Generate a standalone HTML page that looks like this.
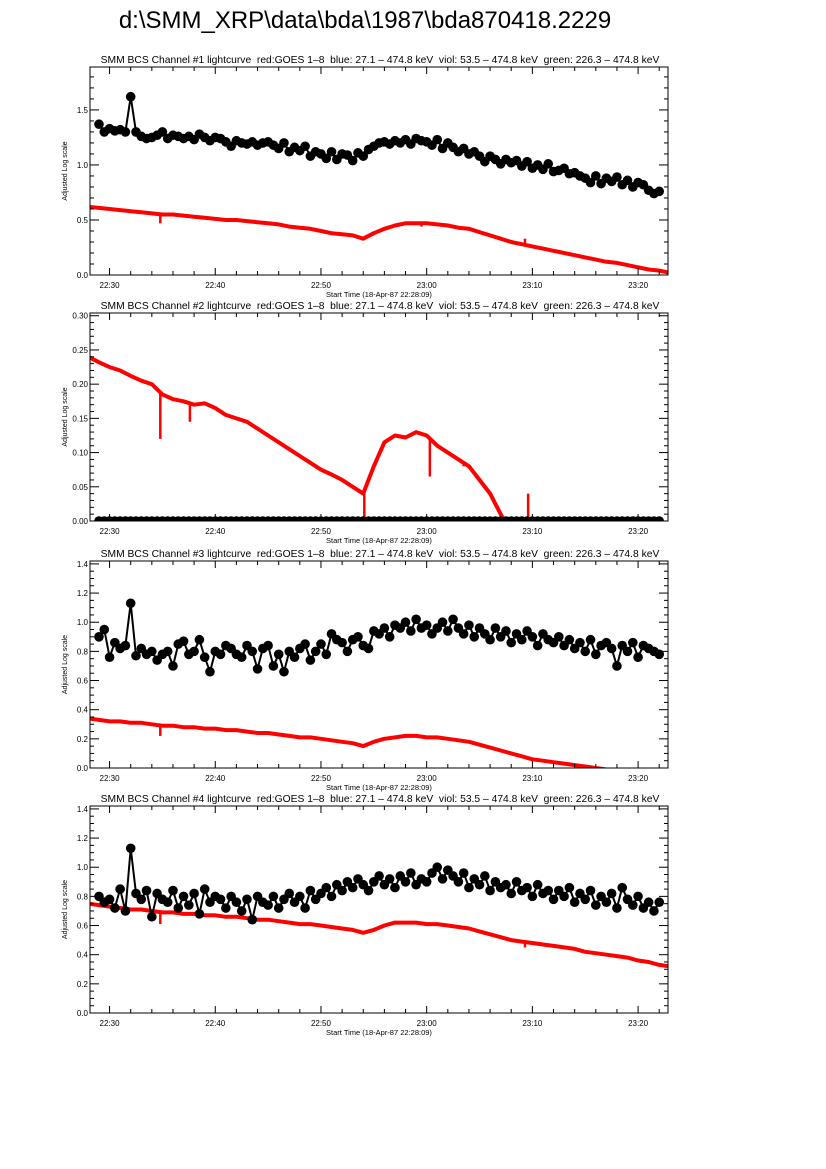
<!DOCTYPE html>
<html><head><meta charset="utf-8"><style>
html,body{margin:0;padding:0;background:#fff;width:826px;height:1169px;overflow:hidden}
svg{display:block;font-family:"Liberation Sans",sans-serif}
</style></head><body>
<svg id="fig" width="826" height="1169" viewBox="0 0 826 1169">
<text x="365" y="28" font-size="24" text-anchor="middle">d:\SMM_XRP\data\bda\1987\bda870418.2229</text>
</svg>
<script>
// Time axis: minutes after 22:00
const xTickMinutes = [30, 40, 50, 60, 70, 80];
const xTickLabels = ["22:30", "22:40", "22:50", "23:00", "23:10", "23:20"];
const redStartMin = 28;   // red series, 1-minute step from 22:28
const blackStartMin = 29; // black series, 0.5-minute step from 22:29

const red1 = [0.62,0.61,0.60,0.59,0.58,0.57,0.56,0.55,0.55,0.54,0.53,0.52,0.51,0.50,0.50,0.49,0.48,0.47,0.46,0.44,0.43,0.42,0.40,0.38,0.37,0.36,0.33,0.38,0.42,0.45,0.47,0.47,0.47,0.46,0.45,0.43,0.42,0.39,0.36,0.33,0.30,0.28,0.26,0.24,0.22,0.20,0.18,0.16,0.14,0.12,0.11,0.09,0.07,0.05,0.04,0.02];
const red2 = [0.240,0.232,0.225,0.220,0.212,0.205,0.200,0.185,0.178,0.175,0.170,0.172,0.165,0.155,0.150,0.145,0.135,0.125,0.115,0.105,0.095,0.085,0.075,0.068,0.060,0.050,0.040,0.080,0.115,0.125,0.122,0.130,0.125,0.110,0.100,0.090,0.080,0.060,0.040,0.010,-0.02,-0.03,-0.04,-0.05,-0.05,-0.05,-0.05,-0.05,-0.05,-0.05,-0.05,-0.05,-0.05,-0.05,-0.05,-0.05];
const red3 = [0.34,0.33,0.32,0.32,0.31,0.31,0.30,0.29,0.29,0.28,0.28,0.27,0.27,0.26,0.26,0.25,0.24,0.24,0.23,0.22,0.21,0.21,0.20,0.19,0.18,0.17,0.15,0.18,0.20,0.21,0.22,0.22,0.21,0.21,0.20,0.19,0.18,0.16,0.14,0.12,0.10,0.08,0.06,0.05,0.04,0.03,0.02,0.01,0.0,-0.01,-0.02,-0.02,-0.03,-0.03,-0.04,-0.04];
const red4 = [0.75,0.74,0.73,0.72,0.71,0.71,0.70,0.69,0.69,0.68,0.68,0.67,0.67,0.66,0.66,0.65,0.64,0.64,0.63,0.62,0.61,0.61,0.60,0.59,0.58,0.57,0.55,0.57,0.60,0.62,0.62,0.62,0.61,0.61,0.60,0.59,0.58,0.56,0.54,0.52,0.50,0.49,0.48,0.47,0.46,0.45,0.44,0.42,0.41,0.40,0.39,0.38,0.36,0.35,0.33,0.32];

// spikes: [minute, value]
const spikes1 = [[34.8,0.47],[69.3,0.33],[59.5,0.44]];
const spikes2 = [[34.8,0.12],[37.6,0.145],[54.1,0.0],[60.3,0.065],[63.5,0.08],[69.6,0.04]];
const spikes3 = [[34.8,0.22]];
const spikes4 = [[34.8,0.61],[69.3,0.45]];

const black1 = [1.37,1.30,1.33,1.31,1.32,1.30,1.62,1.30,1.26,1.24,1.25,1.27,1.30,1.24,1.27,1.26,1.24,1.26,1.23,1.28,1.25,1.22,1.25,1.24,1.21,1.17,1.22,1.20,1.19,1.21,1.18,1.20,1.21,1.18,1.15,1.20,1.12,1.16,1.13,1.17,1.08,1.12,1.10,1.06,1.12,1.05,1.10,1.09,1.04,1.11,1.08,1.14,1.17,1.20,1.21,1.19,1.22,1.20,1.23,1.19,1.24,1.22,1.21,1.18,1.23,1.15,1.20,1.16,1.12,1.15,1.10,1.12,1.08,1.03,1.08,1.05,1.01,1.05,1.02,1.04,0.99,1.03,0.97,1.00,0.96,1.01,0.94,0.95,0.97,0.92,0.93,0.90,0.88,0.84,0.90,0.83,0.88,0.85,0.89,0.82,0.86,0.80,0.84,0.82,0.77,0.74,0.76];
const black2 = [0,0,0,0,0,0,0,0,0,0,0,0,0,0,0,0,0,0,0,0,0,0,0,0,0,0,0,0,0,0,0,0,0,0,0,0,0,0,0,0,0,0,0,0,0,0,0,0,0,0,0,0,0,0,0,0,0,0,0,0,0,0,0,0,0,0,0,0,0,0,0,0,0,0,0,0,0,0,0,0,0,0,0,0,0,0,0,0,0,0,0,0,0,0,0,0,0,0,0,0,0,0,0,0,0,0,0];
const black3 = [0.90,0.95,0.76,0.86,0.82,0.84,1.13,0.77,0.82,0.78,0.80,0.74,0.78,0.80,0.70,0.85,0.87,0.78,0.80,0.88,0.76,0.66,0.80,0.78,0.84,0.82,0.78,0.76,0.84,0.80,0.68,0.82,0.84,0.70,0.78,0.66,0.80,0.76,0.82,0.85,0.74,0.80,0.85,0.78,0.92,0.88,0.86,0.80,0.88,0.90,0.84,0.82,0.94,0.92,0.96,0.90,0.98,0.96,1.00,0.94,1.02,0.96,0.98,0.92,0.96,1.00,0.94,1.02,0.96,0.92,0.98,0.90,0.96,0.92,0.88,0.96,0.90,0.94,0.86,0.92,0.88,0.94,0.90,0.84,0.92,0.88,0.86,0.90,0.84,0.88,0.82,0.86,0.80,0.88,0.78,0.84,0.86,0.82,0.70,0.84,0.80,0.86,0.76,0.84,0.82,0.80,0.78];
const black4 = [0.80,0.76,0.78,0.72,0.85,0.70,1.13,0.82,0.78,0.84,0.66,0.82,0.78,0.76,0.84,0.72,0.80,0.74,0.82,0.68,0.85,0.76,0.80,0.78,0.72,0.80,0.76,0.70,0.78,0.64,0.80,0.76,0.74,0.80,0.72,0.78,0.82,0.76,0.80,0.72,0.84,0.78,0.82,0.86,0.80,0.88,0.84,0.90,0.86,0.92,0.88,0.84,0.90,0.94,0.88,0.92,0.86,0.94,0.90,0.96,0.88,0.92,0.90,0.96,1.00,0.92,0.98,0.94,0.90,0.96,0.86,0.92,0.88,0.94,0.84,0.90,0.86,0.88,0.82,0.90,0.84,0.86,0.80,0.88,0.82,0.84,0.78,0.84,0.80,0.86,0.76,0.82,0.78,0.84,0.74,0.80,0.76,0.82,0.72,0.86,0.78,0.74,0.80,0.72,0.76,0.70,0.76];

const NS = "http://www.w3.org/2000/svg";
const svg = document.getElementById("fig");
function el(tag, attrs, parent) {
  const e = document.createElementNS(NS, tag);
  for (const k in attrs) e.setAttribute(k, attrs[k]);
  (parent || svg).appendChild(e);
  return e;
}
const X0 = 90, X1 = 668;
const T0 = 28.15, T1 = 82.83;
function xs(m) { return X0 + (m - T0) / (T1 - T0) * (X1 - X0); }

const subtitle = "SMM BCS Channel #N lightcurve  red:GOES 1\u20138  blue: 27.1 \u2013 474.8 keV  viol: 53.5 \u2013 474.8 keV  green: 226.3 \u2013 474.8 keV";

const panels = [
  {n:1, top:67, bot:275, ymax:1.89, major:[0,0.5,1.0,1.5], fmt:1, minor:0.1, red:red1, black:black1, spikes:spikes1},
  {n:2, top:313, bot:521, ymax:0.304, major:[0,0.05,0.10,0.15,0.20,0.25,0.30], fmt:2, minor:0.01, red:red2, black:black2, spikes:spikes2},
  {n:3, top:561, bot:768, ymax:1.42, major:[0,0.2,0.4,0.6,0.8,1.0,1.2,1.4], fmt:1, minor:0.05, red:red3, black:black3, spikes:spikes3},
  {n:4, top:806, bot:1013, ymax:1.42, major:[0,0.2,0.4,0.6,0.8,1.0,1.2,1.4], fmt:1, minor:0.05, red:red4, black:black4, spikes:spikes4}
];

panels.forEach(p => {
  const g = el("g", {});
  
  
  const ys = v => p.bot - v / p.ymax * (p.bot - p.top);
  const clipId = "clip" + p.n;
  const cp = el("clipPath", {id: clipId}, g);
  el("rect", {x: X0, y: p.top, width: X1 - X0, height: p.bot - p.top}, cp);

  const t = el("text", {x: 380, y: p.top - 4, "font-size": 10.3, "text-anchor": "middle", style: "white-space:pre"}, g);
  t.textContent = subtitle.replace("#N", "#" + p.n);
  
  

  const yt = el("text", {x: 0, y: 0, "font-size": 7, "text-anchor": "middle", transform: "translate(67," + ((p.top + p.bot) / 2) + ") rotate(-90)"}, g);
  yt.textContent = "Adjusted Log scale";
  
  

  const xt = el("text", {x: 379, y: p.bot + 22, "font-size": 7.5, "text-anchor": "middle"}, g);
  xt.textContent = "Start Time (18-Apr-87 22:28:09)";
  
  

  // data
  const dg = el("g", {"clip-path": "url(#" + clipId + ")"}, g);
  let rp = "";
  p.red.forEach((v, i) => { rp += (i ? "L" : "M") + xs(redStartMin + i).toFixed(1) + "," + ys(v).toFixed(1); });
  const rl = el("path", {d: rp, fill: "none", stroke: "#ff0000", "stroke-width": 4, "stroke-linejoin": "round"}, dg);
  
  
  p.spikes.forEach(s => {
    const i = Math.floor(s[0] - redStartMin), f = s[0] - redStartMin - i;
    let base = p.red[i] + (p.red[i + 1] - p.red[i]) * f;
    if (base < 0) base = 0;
    const sl = el("line", {x1: xs(s[0]), x2: xs(s[0]), y1: ys(base), y2: ys(s[1]), stroke: "#ff0000", "stroke-width": 2.5}, dg);
    
    
  });
  let bp = "";
  p.black.forEach((v, i) => { bp += (i ? "L" : "M") + xs(blackStartMin + i * 0.5).toFixed(1) + "," + ys(v).toFixed(1); });
  const bl = el("path", {d: bp, fill: "none", stroke: "#000", "stroke-width": 2}, dg);
  
  
  p.black.forEach((v, i) => {
    const c = el("circle", {cx: xs(blackStartMin + i * 0.5), cy: ys(v), r: 4.8, fill: "#000"}, dg);
    
    
  });

  // frame
  const fr = el("rect", {x: X0, y: p.top, width: X1 - X0, height: p.bot - p.top, fill: "none", stroke: "#000", "stroke-width": 1}, g);
  
  

  // x ticks
  for (let m = 30; m <= 82; m += 2) {
    const major = (m % 10 === 0), L = major ? 7 : 4, x = xs(m);
    el("line", {x1: x, x2: x, y1: p.bot, y2: p.bot - L, stroke: "#000"}, g);
    el("line", {x1: x, x2: x, y1: p.top, y2: p.top + L, stroke: "#000"}, g);
  }
  xTickMinutes.forEach((m, i) => {
    const tl = el("text", {x: xs(m), y: p.bot + 13, "font-size": 8, "text-anchor": "middle"}, g);
    tl.textContent = xTickLabels[i];
    
    
  });
  // y ticks
  const nMinor = Math.floor(p.ymax / p.minor + 1e-6);
  for (let k = 0; k <= nMinor; k++) {
    const v = k * p.minor, y = ys(v);
    const isMaj = p.major.some(m => Math.abs(m - v) < 1e-6);
    const L = isMaj ? 9 : 4;
    el("line", {x1: X0, x2: X0 + L, y1: y, y2: y, stroke: "#000"}, g);
    el("line", {x1: X1, x2: X1 - L, y1: y, y2: y, stroke: "#000"}, g);
  }
  p.major.forEach(v => {
    const tl = el("text", {x: X0 - 2, y: ys(v) + 3, "font-size": 8, "text-anchor": "end"}, g);
    tl.textContent = v.toFixed(p.fmt);
    
    
  });
});
</script>
</body></html>
